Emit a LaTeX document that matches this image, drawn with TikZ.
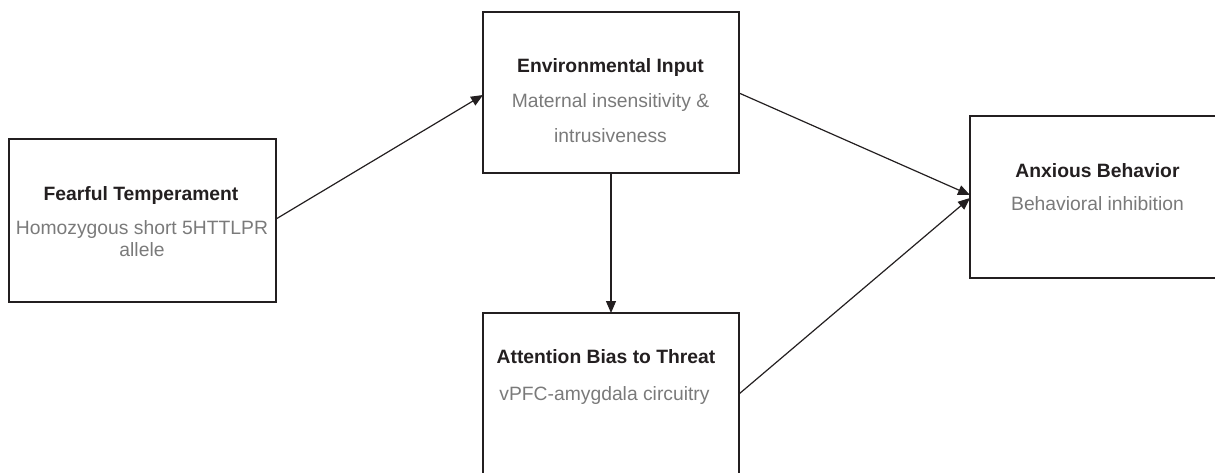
\documentclass[tikz,border=0pt]{standalone}
\usepackage{fontspec}
\setmainfont{Liberation Sans}
\usetikzlibrary{arrows.meta,calc}
\definecolor{titlecol}{HTML}{231F20}
\definecolor{subcol}{HTML}{7A7A7A}
\begin{document}
\begin{tikzpicture}[x=1pt,y=-1pt,
  box/.style={draw=titlecol,line width=1.6pt,fill=none,inner sep=0pt,outer sep=0pt,rectangle},
  ttl/.style={anchor=base,inner sep=0pt,text=titlecol,font=\fontsize{19.3}{22}\selectfont\bfseries},
  sub/.style={anchor=base,inner sep=0pt,text=subcol,font=\fontsize{19.3}{22}\selectfont},
  arr/.style={draw=titlecol,line width=1.2pt,-{Triangle[length=12pt,width=10pt]}}]
\useasboundingbox (0,0) rectangle (1215,472);
\clip (0,0) rectangle (1215,472);
% boxes
\node[box,minimum width=267pt,minimum height=163pt] (fear) at (142.5,220.5) {};
\node[box,minimum width=256pt,minimum height=161pt] (env) at (611,92.5) {};
\node[box,minimum width=256pt,minimum height=162pt] (att) at (611,394) {};
\node[box,minimum width=255pt,minimum height=162pt] (anx) at (1097.5,197) {};
% texts
\node[ttl] (fearT) at (141,200.5) {Fearful Temperament};
\node[sub] (fearS1) at (142,234) {Homozygous short 5HTTLPR};
\node[sub] (fearS2) at (142,256) {allele};
\node[ttl] (envT) at (610.5,72) {Environmental Input};
\node[sub] (envS1) at (610.5,107) {Maternal insensitivity \&};
\node[sub] (envS2) at (610.5,142) {intrusiveness};
\node[ttl] (attT) at (606,363) {Attention Bias to Threat};
\node[sub] (attS) at (604.5,400) {vPFC-amygdala circuitry};
\node[ttl] (anxT) at (1097.5,177) {Anxious Behavior};
\node[sub] (anxS) at (1097.5,210) {Behavioral inhibition};
% connectors
\draw[arr] ($(fear.east)+(0,-1.5)$) -- ($(env.west)+(0,2.5)$);
\draw[arr] ($(env.east)+(0,0.5)$) -- ($(anx.west)+(0,-2)$);
\draw[arr] (att.east) -- ($(anx.west)+(0,1)$);
\draw[arr] (env.south) -- (att.north);
\end{tikzpicture}
\end{document}
